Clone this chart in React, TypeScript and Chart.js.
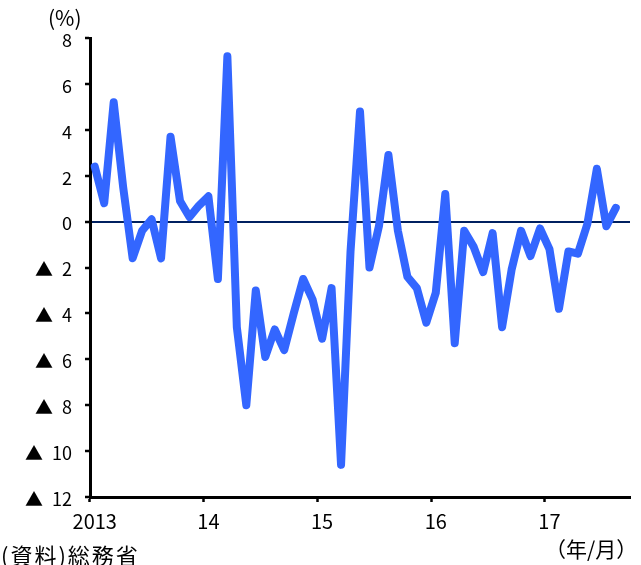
import { useEffect, useRef } from 'react';
import { Chart, registerables } from 'chart.js';

Chart.register(...registerables);

// Household consumption expenditure, real, year-on-year change (%)
const years = ['2013', '2014', '2015', '2016', '2017'];
const yearTickLabels = ['2013', '14', '15', '16', '17'];

const yoy2013 = [2.4, 0.8, 5.2, 1.5, -1.6, -0.4, 0.1, -1.6, 3.7, 0.9, 0.2, 0.7];
const yoy2014 = [1.1, -2.5, 7.2, -4.6, -8.0, -3.0, -5.9, -4.7, -5.6, -4.0, -2.5, -3.4];
const yoy2015 = [-5.1, -2.9, -10.6, -1.3, 4.8, -2.0, -0.2, 2.9, -0.4, -2.4, -2.9, -4.4];
const yoy2016 = [-3.1, 1.2, -5.3, -0.4, -1.1, -2.2, -0.5, -4.6, -2.1, -0.4, -1.5, -0.3];
const yoy2017 = [-1.2, -3.8, -1.3, -1.4, -0.1, 2.3, -0.2, 0.6];

// Monthly categories, Jan 2013 through Sep 2017
const monthLabels: string[] = years
  .flatMap((y) => Array.from({ length: 12 }, (_, m) => `${y}/${m + 1}`))
  .slice(0, 57);

const yoyValues = [...yoy2013, ...yoy2014, ...yoy2015, ...yoy2016, ...yoy2017];

const LINE_BLUE = '#3366ff';
const ZERO_NAVY = '#002060';
const TICK_FONT = '"Noto Sans CJK JP", sans-serif';
const JP_FONT = '"Noto Sans CJK JP", sans-serif';

function SpendingChart() {
  const canvasRef = useRef<HTMLCanvasElement | null>(null);

  useEffect(() => {
    const canvas = canvasRef.current;
    if (!canvas) return;
    const chart = new Chart(canvas, {
      type: 'line',
      data: {
        labels: monthLabels,
        datasets: [
          {
            data: yoyValues,
            borderColor: LINE_BLUE,
            borderWidth: 8,
            borderJoinStyle: 'round',
            borderCapStyle: 'round',
            pointRadius: 0,
            tension: 0,
            fill: false,
          },
        ],
      },
      options: {
        animation: false,
        responsive: false,
        maintainAspectRatio: false,
        layout: { padding: { top: 38, right: 11, left: 0, bottom: 0 } },
        plugins: {
          legend: { display: false },
          tooltip: { enabled: false },
        },
        scales: {
          x: {
            type: 'category',
            offset: true,
            grid: {
              offset: true,
              drawOnChartArea: false,
              drawTicks: true,
              tickLength: 5,
              tickWidth: 2.5,
              tickColor: (ctx: any) => (ctx.index % 12 === 0 ? '#000' : 'rgba(0,0,0,0)'),
            },
            border: { color: '#000', width: 3 },
            ticks: {
              autoSkip: false,
              maxRotation: 0,
              minRotation: 0,
              padding: 7,
              color: '#000',
              font: { family: TICK_FONT, size: 20 },
              callback: (_v: any, i: number) => (i % 12 === 0 ? yearTickLabels[i / 12] : ''),
            },
            afterFit: (scale: any) => {
              scale.height = 68;
            },
          },
          y: {
            min: -12,
            max: 8,
            grid: {
              drawTicks: true,
              tickLength: 5,
              tickWidth: 2.5,
              tickColor: '#000',
              lineWidth: 2,
              color: (ctx: any) => (ctx.tick && ctx.tick.value === 0 ? ZERO_NAVY : 'rgba(0,0,0,0)'),
            },
            border: { color: '#000', width: 3 },
            ticks: {
              stepSize: 2,
              padding: 13,
              labelOffset: 2,
              color: '#000',
              font: { family: TICK_FONT, size: 18 },
              callback: (v: any) => (v < 0 ? `▲\u2002${-v}` : `${v}`),
            },
            afterFit: (scale: any) => {
              scale.width = 90;
            },
          },
        },
      },
    });
    return () => chart.destroy();
  }, []);

  return <canvas ref={canvasRef} width={641} height={565} style={{ display: 'block' }} />;
}

export default function App() {
  return (
    <div style={{ position: 'absolute', left: 0, top: 0, width: 641, height: 565, background: '#fff', overflow: 'hidden' }}>
      <SpendingChart />
      <span style={{ position: 'absolute', left: 48, top: 2, font: `21px ${JP_FONT}`, color: '#000', whiteSpace: 'nowrap' }}>
        (%)
      </span>
      <span
        style={{
          position: 'absolute',
          left: 1,
          top: 538,
          font: `22px ${JP_FONT}`,
          letterSpacing: '2px',
          color: '#000',
          whiteSpace: 'nowrap',
        }}
      >
        (資料)総務省
      </span>
      <span style={{ position: 'absolute', left: 545, top: 533, font: `21px ${JP_FONT}`, color: '#000', whiteSpace: 'nowrap' }}>
        （年/月）
      </span>
    </div>
  );
}
